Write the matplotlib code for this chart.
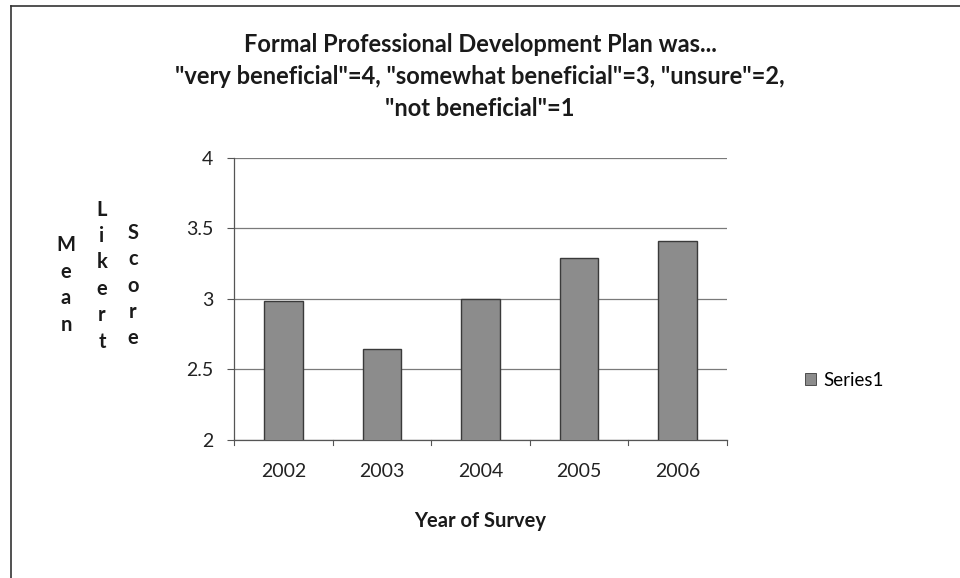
import matplotlib.pyplot as plt
from matplotlib.lines import Line2D
from matplotlib.patches import Patch

years = ["2002", "2003", "2004", "2005", "2006"]
mean_scores = [2.98, 2.64, 3.00, 3.29, 3.41]
y_ticks = [2, 2.5, 3, 3.5, 4]
y_tick_labels = ["2", "2.5", "3", "3.5", "4"]

title_lines = [
    "Formal Professional Development Plan was...",
    '"very beneficial"=4, "somewhat beneficial"=3, "unsure"=2,',
    '"not beneficial"=1',
]

plt.rcParams['font.family'] = ['Lato', 'DejaVu Sans']

fig = plt.figure(figsize=(9.6, 5.78), dpi=100)
ax = fig.add_axes([0.24375, 0.2396, 0.5135, 0.4879])

bar_fill = "#8c8c8c"
bar_edge = "#3a3a3a"
x = list(range(len(years)))
ax.bar(x, mean_scores, width=0.39, color=bar_fill, edgecolor=bar_edge,
       linewidth=1.0, zorder=3)

ax.set_ylim(2, 4)
ax.set_xlim(-0.5, len(years) - 0.5)
ax.set_yticks(y_ticks)
ax.set_yticklabels(y_tick_labels, fontsize=14, color="#222222")
ax.set_xticks(x)
ax.set_xticklabels(years, fontsize=14, color="#222222")
ax.tick_params(axis="x", length=0, pad=17)
ax.tick_params(axis="y", length=5, width=0.8, color="#555555", pad=10)

# category boundary ticks along the bottom
for b in [i - 0.5 for i in range(len(years) + 1)]:
    ax.plot([b, b], [2, 2 - 0.04], color="#555555", lw=0.8,
            clip_on=False, zorder=4)

ax.yaxis.grid(True, color="#7a7a7a", linewidth=0.9, zorder=0)
ax.set_axisbelow(True)
for side in ["top", "right"]:
    ax.spines[side].set_visible(False)
ax.spines["left"].set_color("#555555")
ax.spines["left"].set_linewidth(0.9)
ax.spines["bottom"].set_color("#555555")
ax.spines["bottom"].set_linewidth(0.9)

# title, three lines
for i, line in enumerate(title_lines):
    fig.text(0.5, 1 - (45 + 31.5 * i) / 578, line, ha="center", va="center",
             fontsize=17, fontweight="bold", color="#1a1a1a")

fig.text(0.5, 1 - 521 / 578, "Year of Survey", ha="center", va="center",
         fontsize=14.5, fontweight="bold", color="#1a1a1a")

# y-axis title written as stacked letters in three columns
for word, xpx, ypx in [("Mean", 66, 285), ("Likert", 102, 275.5), ("Score", 133, 285.5)]:
    fig.text(xpx / 960, 1 - ypx / 578, "\n".join(word), ha="center", va="center",
             fontsize=14.5, fontweight="bold", color="#1a1a1a", linespacing=1.4)

# legend
handle = Patch(facecolor=bar_fill, edgecolor=bar_edge, linewidth=0.6)
fig.legend([handle], ["Series1"], loc="center left",
           bbox_to_anchor=(788 / 960, 1 - 380 / 578), frameon=False,
           fontsize=13.5, handlelength=0.6, handleheight=0.6, handletextpad=0.4)

# outer chart frame (top and left edges)
fig.add_artist(Line2D([11 / 960, 1], [1 - 6 / 578, 1 - 6 / 578],
                      transform=fig.transFigure, color="#333333", lw=1.2))
fig.add_artist(Line2D([11 / 960, 11 / 960], [0, 1 - 6 / 578],
                      transform=fig.transFigure, color="#333333", lw=1.2))

fig.savefig("out.png", dpi=100)
